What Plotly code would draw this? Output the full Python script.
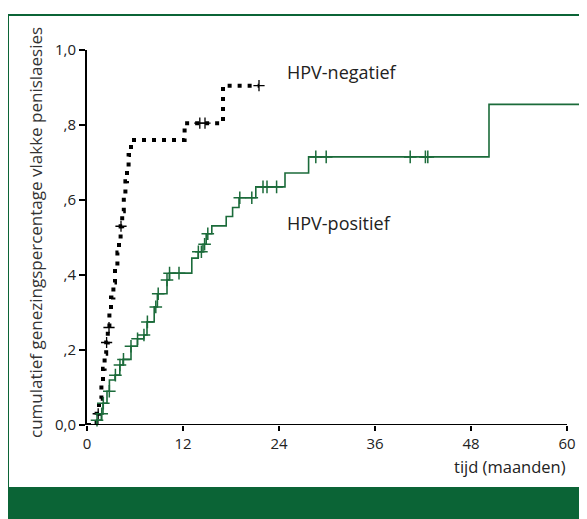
import numpy as np
import plotly.graph_objects as go

# HPV-negatief (cumulative healing, step function)
neg_t = [0.0, 1.2, 1.5, 1.8, 2.0, 2.2, 2.4, 2.6, 2.8, 3.0, 3.3, 3.5, 3.8, 4.0, 4.2, 4.4, 4.6, 4.8, 5.0, 5.2, 5.5, 12.2, 17.0, 21.5]
neg_p = [0.0, 0.03, 0.07, 0.11, 0.15, 0.19, 0.22, 0.26, 0.30, 0.34, 0.38, 0.42, 0.46, 0.49, 0.53, 0.57, 0.61, 0.65, 0.68, 0.72, 0.76, 0.805, 0.905, 0.905]
neg_cens = [1.4, 2.45, 2.75, 4.25, 14.1, 14.75, 21.5]

# HPV-positief
pos_t = [0.0, 1.2, 1.8, 2.0, 2.5, 2.8, 3.5, 4.1, 4.5, 5.5, 6.3, 7.1, 7.5, 8.4, 8.8, 10.0, 10.3, 13.1, 13.9, 14.5, 14.9, 15.6, 17.4, 18.2, 19.0, 21.1, 24.75, 27.7, 50.25, 62.5]
pos_p = [0.0, 0.013, 0.03, 0.058, 0.09, 0.12, 0.133, 0.16, 0.175, 0.21, 0.23, 0.24, 0.275, 0.315, 0.35, 0.387, 0.405, 0.445, 0.462, 0.482, 0.51, 0.531, 0.556, 0.58, 0.606, 0.635, 0.672, 0.715, 0.855, 0.855]
pos_cens = [1.25, 1.84, 2.04, 2.79, 3.55, 4.12, 4.56, 5.5, 6.32, 7.12, 7.55, 8.6, 8.9, 10.0, 10.32, 11.5, 13.92, 14.3, 14.7, 15.1, 19.1, 20.6, 22.0, 22.5, 23.7, 28.6, 29.9, 40.4, 42.3, 42.6]

x_ticks = [0, 12, 24, 36, 48, 60]
y_ticks = [0, 0.2, 0.4, 0.6, 0.8, 1.0]
y_ticktext = ["0,0", ",2", ",4", ",6", ",8", "1,0"]


def step_at(ts, ps, q):
    idx = np.searchsorted(np.array(ts), np.array(q), side="right") - 1
    return [ps[i] for i in idx]


GREEN = "#1b6b3a"
FRAME = "#0b6436"
FONT = "Open Sans"
OFF = 8  # page body offset

fig = go.Figure()
fig.add_trace(go.Scatter(x=neg_t, y=neg_p, mode="lines", line_shape="hv",
                         line=dict(color="black", width=4, dash="4px,6px"),
                         showlegend=False, hoverinfo="skip"))
fig.add_trace(go.Scatter(x=neg_cens, y=step_at(neg_t, neg_p, neg_cens), mode="markers",
                         marker=dict(symbol="cross-thin", size=8, line=dict(color="black", width=1.3)),
                         showlegend=False, cliponaxis=False))
fig.add_trace(go.Scatter(x=pos_t, y=pos_p, mode="lines", line_shape="hv",
                         line=dict(color=GREEN, width=1.6),
                         showlegend=False, hoverinfo="skip"))
fig.add_trace(go.Scatter(x=pos_cens, y=step_at(pos_t, pos_p, pos_cens), mode="markers",
                         marker=dict(symbol="cross-thin", size=9, line=dict(color=GREEN, width=1.5)),
                         showlegend=False, cliponaxis=False))

W, H = 587 - OFF, 519 - OFF
L, R, T, B = 87 - OFF, 0, 50 - OFF, 519 - 425
pw, ph = W - L - R, H - T - B


def px(xp):
    return (xp - OFF - L) / pw


def py(yp):
    return (H - B - (yp - OFF)) / ph


shapes = [
    dict(type="rect", xref="paper", yref="paper", x0=px(8), x1=px(600), y0=py(488), y1=py(15),
         line=dict(color=FRAME, width=2), fillcolor="rgba(0,0,0,0)", layer="below"),
    dict(type="rect", xref="paper", yref="paper", x0=px(8), x1=px(600), y0=py(540), y1=py(488),
         line=dict(width=0), fillcolor=FRAME, layer="below"),
    dict(type="line", xref="x", yref="y", x0=0, x1=60, y0=0, y1=0,
         line=dict(color="black", width=2)),
]

fig.update_layout(
    width=W, height=H,
    margin=dict(l=L, r=R, t=T, b=B),
    paper_bgcolor="white", plot_bgcolor="white",
    font=dict(family=FONT, color="#222", size=15),
    shapes=shapes,
    annotations=[
        dict(x=px(285), y=py(72), xref="paper", yref="paper", text="HPV-negatief",
             showarrow=False, xanchor="left", yanchor="middle", font=dict(size=18, family=FONT, color="#222")),
        dict(x=px(285), y=py(223), xref="paper", yref="paper", text="HPV-positief",
             showarrow=False, xanchor="left", yanchor="middle", font=dict(size=18, family=FONT, color="#222")),
        dict(x=px(568), y=py(466), xref="paper", yref="paper", text="tijd (maanden)", showarrow=False,
             xanchor="right", yanchor="middle", font=dict(size=16.5, family=FONT, color="#222")),
        dict(x=px(35), y=py(233), xref="paper", yref="paper", text="cumulatief genezingspercentage vlakke penislaesies",
             showarrow=False, textangle=-90, xanchor="center", yanchor="middle",
             font=dict(size=17, family=FONT, color="#333")),
    ],
    xaxis=dict(range=[0, 62.5], tickvals=x_ticks, ticktext=[str(v) for v in x_ticks],
               showline=False, showgrid=False, zeroline=False, ticks="outside", ticklen=5,
               tickwidth=1.5, tickcolor="black", tickfont=dict(size=15)),
    yaxis=dict(range=[0, 1.0], tickvals=y_ticks, ticktext=y_ticktext,
               showline=True, linecolor="black", linewidth=2, showgrid=False, zeroline=False,
               ticks="outside", ticklen=6, tickwidth=1.5, tickcolor="black", tickfont=dict(size=15)),
)

fig.write_html("out.html")
